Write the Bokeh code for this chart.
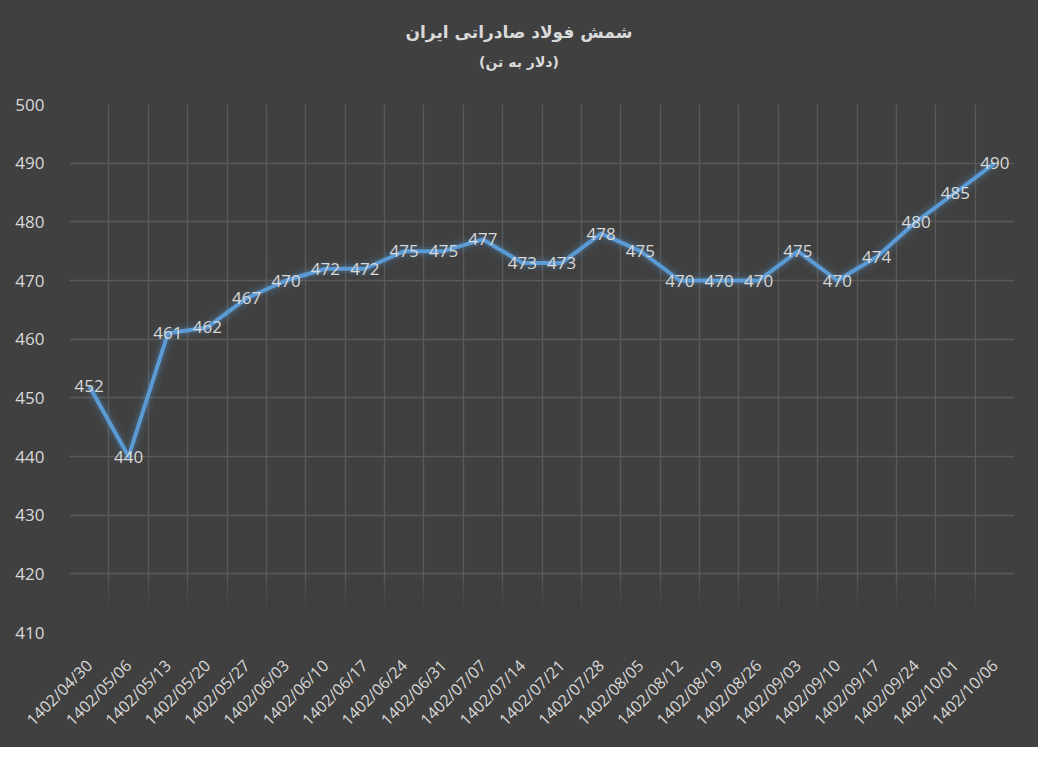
from bokeh.plotting import figure
from bokeh.models import FixedTicker, Range1d, ColumnDataSource, Div
from bokeh.layouts import column
from bokeh.embed import file_html
from bokeh.resources import INLINE
from bokeh.core.properties import value
import math

dates = ["1402/04/30", "1402/05/06", "1402/05/13", "1402/05/20", "1402/05/27",
         "1402/06/03", "1402/06/10", "1402/06/17", "1402/06/24", "1402/06/31",
         "1402/07/07", "1402/07/14", "1402/07/21", "1402/07/28", "1402/08/05",
         "1402/08/12", "1402/08/19", "1402/08/26", "1402/09/03", "1402/09/10",
         "1402/09/17", "1402/09/24", "1402/10/01", "1402/10/06"]
prices = [452, 440, 461, 462, 467, 470, 472, 472, 475, 475, 477, 473, 473,
          478, 475, 470, 470, 470, 475, 470, 474, 480, 485, 490]
y_ticks = [410, 420, 430, 440, 450, 460, 470, 480, 490, 500]
title_text = "شمش فولاد صادراتی ایران"
subtitle_text = "(دلار به تن)"

BG = "#404040"
GRID = "#5a5a5a"
TXT = "#d9d9d9"
LINE = "#5b9bd5"

W, H = 1038, 747
HEAD = 90

n = len(dates)
xs = [i + 0.5 for i in range(n)]
src = ColumnDataSource(dict(x=xs, y=prices, t=[str(v) for v in prices]))

head_html = (
    f'<div style="position:relative;width:{W}px;height:{HEAD}px;background:{BG};'
    f'font-family:\'DejaVu Sans\';color:{TXT};font-weight:bold;">'
    f'<div dir="rtl" style="position:absolute;left:219px;width:600px;top:20px;'
    f'line-height:24px;font-size:17px;text-align:center;">{title_text}</div>'
    f'<div dir="rtl" style="position:absolute;left:219px;width:600px;top:52px;'
    f'line-height:20px;font-size:14px;text-align:center;">{subtitle_text}</div>'
    f'</div>'
)
head = Div(text=head_html, width=W, height=HEAD, margin=(0, 0, 0, 0),
           styles={"background-color": BG})

p = figure(width=W, height=H - HEAD, output_backend="svg", toolbar_location=None,
           x_range=Range1d(0, n), y_range=Range1d(y_ticks[0], y_ticks[-1]),
           min_border_left=69, min_border_right=24, min_border_top=104 - HEAD,
           min_border_bottom=115, margin=(0, 0, 0, 0))
p.background_fill_color = BG
p.border_fill_color = BG
p.outline_line_color = None

# grid
p.xgrid.ticker = FixedTicker(ticks=list(range(n + 1)))
p.ygrid.ticker = FixedTicker(ticks=y_ticks)
p.xgrid.grid_line_color = GRID
p.ygrid.grid_line_color = GRID
p.xgrid.grid_line_width = 1.4
p.ygrid.grid_line_width = 1.4

# fade grid at bottom
lo = y_ticks[0]
p.quad(left=0, right=n, bottom=lo - 1, top=lo + 3.5, fill_color=BG, line_color=None)
for t in [4.8, 6.2, 7.6, 9.0]:
    p.quad(left=0, right=n, bottom=lo - 1, top=lo + t, fill_color=BG,
           fill_alpha=0.3, line_color=None)

# axes
p.xaxis.ticker = FixedTicker(ticks=xs)
p.xaxis.major_label_overrides = {x: d for x, d in zip(xs, dates)}
p.xaxis.major_label_orientation = math.pi / 4
p.yaxis.ticker = FixedTicker(ticks=y_ticks)
for ax in (p.xaxis, p.yaxis):
    ax.axis_line_color = None
    ax.major_tick_line_color = None
    ax.minor_tick_line_color = None
    ax.major_label_text_color = TXT
    ax.major_label_text_font = "Open Sans"
p.xaxis.major_label_text_font_size = "16px"
p.yaxis.major_label_text_font_size = "17px"
p.xaxis.major_label_standoff = 24
p.yaxis.major_label_standoff = 19

# glow + line
p.line("x", "y", source=src, line_color=LINE, line_width=16, line_alpha=0.07)
p.line("x", "y", source=src, line_color=LINE, line_width=9, line_alpha=0.15)
p.line("x", "y", source=src, line_color=LINE, line_width=4, line_join="round")

p.text("x", "y", text="t", source=src, text_align="center", text_baseline="middle",
       text_color=TXT, text_font=value("Open Sans"), text_font_size="17px")

layout = column(head, p, spacing=0, margin=(0, 0, 0, 0),
                styles={"background-color": BG})

open("out.html", "w").write(file_html(layout, INLINE))
